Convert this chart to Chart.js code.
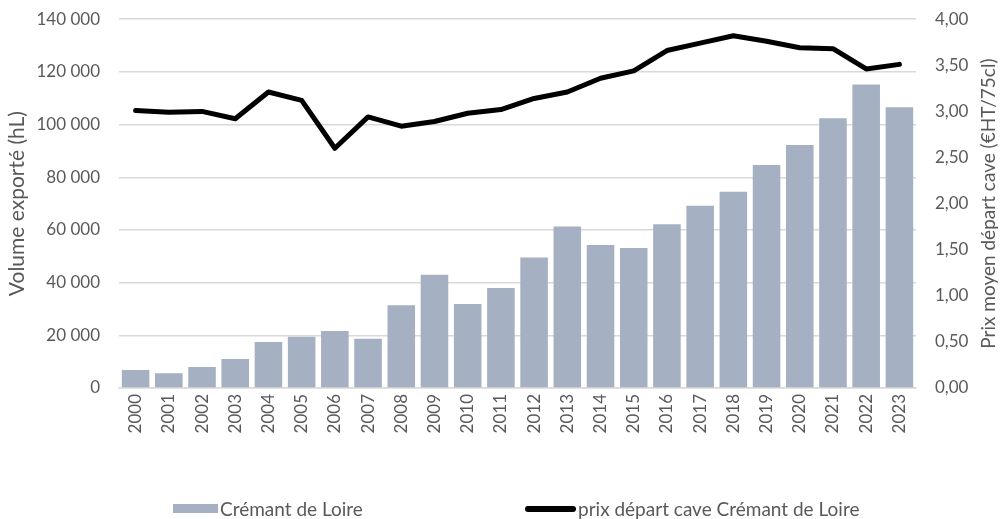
<!DOCTYPE html>
<html lang="fr">
<head>
<meta charset="utf-8">
<title>Crémant de Loire</title>
<script src="https://cdn.jsdelivr.net/npm/chart.js@4/dist/chart.umd.min.js"></script>
<style>
    html, body { margin: 0; padding: 0; background: #fff; }
    #cadre { position: relative; width: 1002px; height: 519px; overflow: hidden; }
    /* la zone du graphique commence 10px trop bas : on remonte le canevas */
    #graphique { position: absolute; left: 0; top: -10px; }
    #legende { position: absolute; left: 0; top: 498px; width: 1002px; height: 21px;
               font: 19px Lato, sans-serif; color: #595959; }
    .item { position: absolute; top: 0; display: flex; align-items: center; height: 21px; white-space: nowrap; }
    .boite { display: inline-block; margin-right: 2px; }
</style>
</head>
<body>
<div id="cadre">
    <canvas id="graphique" width="1002" height="529"></canvas>
    <div id="legende"></div>
</div>
<script>
// ---- DONNÉES ----
const annees = ["2000", "2001", "2002", "2003", "2004", "2005", "2006", "2007", "2008", "2009", "2010", "2011",
                "2012", "2013", "2014", "2015", "2016", "2017", "2018", "2019", "2020", "2021", "2022", "2023"];

// volume exporté (hL)
const volumes = [6800, 5600, 8000, 11000, 17500, 19500, 21600, 18700, 31400, 43000, 31900, 38000,
                 49500, 61300, 54300, 53100, 62200, 69200, 74500, 84700, 92200, 102400, 115200, 106600];

// prix départ cave (€HT/75cl)
const prix = [3.01, 2.99, 3.00, 2.92, 3.21, 3.12, 2.60, 2.94, 2.84, 2.89, 2.98, 3.02,
              3.14, 3.21, 3.36, 3.44, 3.66, 3.74, 3.82, 3.76, 3.69, 3.68, 3.46, 3.51];

const ticksVolume = [0, 20000, 40000, 60000, 80000, 100000, 120000, 140000];
const ticksPrix = [0, 0.5, 1, 1.5, 2, 2.5, 3, 3.5, 4];

const nomBarres = "Crémant de Loire";
const nomLigne = "prix départ cave Crémant de Loire";
const titreGauche = "Volume exporté (hL)";
const titreDroite = "Prix moyen départ cave (€HT/75cl)";

const gris = "#595959";
const couleurBarres = "#A5B0C2";
const police = "Lato, sans-serif";

function formatMilliers(v) {
    return String(v).replace(/\B(?=(\d{3})+(?!\d))/g, " ");
}

// titre de l'axe de droite, lu de bas en haut
const titreDroitePlugin = {
    id: "titreDroite",
    afterDraw(chart) {
        const ctx = chart.ctx;
        const area = chart.chartArea;
        ctx.save();
        ctx.translate(989, (area.top + area.bottom) / 2);
        ctx.rotate(-Math.PI / 2);
        ctx.font = "19px " + police;
        ctx.fillStyle = gris;
        ctx.textAlign = "center";
        ctx.textBaseline = "middle";
        ctx.fillText(titreDroite, 0, 0);
        ctx.restore();
    }
};

const ctx = document.getElementById("graphique").getContext("2d");
const grafico = new Chart(ctx, {
    data: {
        labels: annees,
        datasets: [
            {
                type: "line",
                label: nomLigne,
                data: prix,
                yAxisID: "y1",
                borderColor: "#000",
                backgroundColor: "#000",
                borderWidth: 5,
                pointRadius: 0,
                tension: 0,
                borderJoinStyle: "round",
                borderCapStyle: "round",
                order: 0
            },
            {
                type: "bar",
                label: nomBarres,
                data: volumes,
                yAxisID: "y",
                backgroundColor: couleurBarres,
                borderWidth: 0,
                barPercentage: 1,
                categoryPercentage: 0.83,
                order: 1
            }
        ]
    },
    options: {
        responsive: false,
        animation: false,
        layout: { autoPadding: false, padding: { top: 9, left: 0, right: 0, bottom: 0 } },
        plugins: {
            legend: { display: false },
            tooltip: { enabled: false }
        },
        scales: {
            x: {
                grid: { display: false, drawTicks: false },
                border: { display: true, color: "#D9D9D9", width: 1.5 },
                ticks: {
                    color: gris,
                    font: { family: police, size: 17 },
                    minRotation: 90,
                    maxRotation: 90,
                    autoSkip: false,
                    padding: 6
                },
                afterFit: s => { s.height = 131; }
            },
            y: {
                position: "left",
                min: 0,
                max: 140000,
                afterBuildTicks: s => { s.ticks = ticksVolume.map(v => ({ value: v })); },
                grid: { color: "#D9D9D9", lineWidth: 1.5, drawTicks: false },
                border: { display: false },
                ticks: {
                    color: gris,
                    font: { family: police, size: 17 },
                    padding: 19,
                    callback: v => formatMilliers(v)
                },
                title: {
                    display: true,
                    text: titreGauche,
                    color: gris,
                    font: { family: police, size: 21 },
                    padding: { top: 5, bottom: 0 }
                },
                afterFit: s => { s.width = 119; }
            },
            y1: {
                position: "right",
                min: 0,
                max: 4,
                afterBuildTicks: s => { s.ticks = ticksPrix.map(v => ({ value: v })); },
                grid: { display: false, drawTicks: false },
                border: { display: false },
                ticks: {
                    color: gris,
                    font: { family: police, size: 17 },
                    padding: 19,
                    callback: v => Number(v).toFixed(2).replace(".", ",")
                },
                afterFit: s => { s.width = 86; }
            }
        }
    },
    plugins: [titreDroitePlugin]
});

// ---- LÉGENDE ----
const legende = document.getElementById("legende");
const itens = [
    { texte: nomBarres, x: 173, w: 45, h: 9, cor: couleurBarres },
    { texte: nomLigne, x: 525, w: 51, h: 6, cor: "#000" }
];
itens.forEach(it => {
    const div = document.createElement("div");
    div.className = "item";
    div.style.left = it.x + "px";
    const boite = document.createElement("span");
    boite.className = "boite";
    boite.style.width = it.w + "px";
    boite.style.height = it.h + "px";
    boite.style.background = it.cor;
    if (it.h < 8) boite.style.borderRadius = "3px";
    div.appendChild(boite);
    div.appendChild(document.createTextNode(it.texte));
    legende.appendChild(div);
});
</script>
</body>
</html>
